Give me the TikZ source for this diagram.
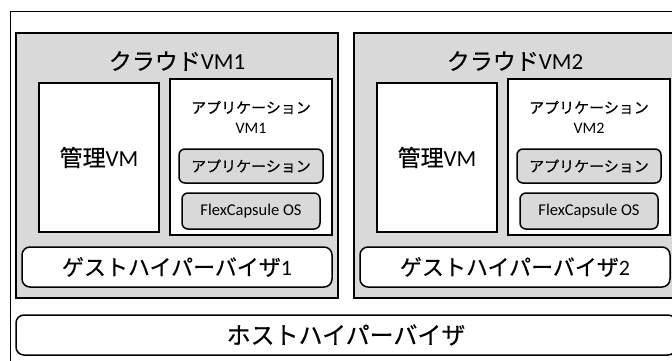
\documentclass[tikz,border=0pt]{standalone}
\usepackage{fontspec}
\setmainfont{Carlito}
\newfontfamily\jp[FakeBold=0.4]{Noto Sans CJK JP}
\definecolor{boxgray}{HTML}{D9D9D9}
\begin{document}
\begin{tikzpicture}[x=1pt,y=-1pt,
  frame/.style={draw=black, line width=1.5pt, inner sep=0pt, rectangle},
  graybox/.style={frame, fill=boxgray},
  whitebox/.style={frame, fill=white},
  roundwhite/.style={whitebox, rounded corners=8pt},
  roundgray/.style={graybox, rounded corners=6pt},
  bigtext/.style={font=\fontsize{23}{27}\selectfont},
  midtext/.style={font=\fontsize{15}{20}\selectfont, align=center},
  smalltext/.style={font=\fontsize{16.5}{19}\selectfont}]
\useasboundingbox (0,0) rectangle (672,360);
\clip (0,0) rectangle (672,360);
\node[whitebox, line width=1.3pt, minimum width=672, minimum height=360, anchor=north west] (outer) at (10,11) {};
% cloud VM 1
\node[graybox, minimum width=322, minimum height=265] (cloud1) at (177,165.5) {};
\node[bigtext] (cloud1t) at (177,61) {{\jp クラウド}VM1};
\node[whitebox, minimum width=120, minimum height=149, bigtext] (mgmt1) at (99,157.5) {{\jp 管理}VM};
\node[whitebox, minimum width=162, minimum height=156] (appvm1) at (251,157) {};
\node[midtext] (appvm1t) at (251,117) {{\jp アプリケーション}\\{\fontsize{16}{20}\selectfont VM1}};
\node[roundgray, minimum width=144, minimum height=34, midtext] (app1) at (251,166) {\jp アプリケーション};
\node[roundgray, minimum width=138, minimum height=36, smalltext] (flex1) at (251,211) {FlexCapsule OS};
\node[roundwhite, minimum width=310, minimum height=40, font=\fontsize{22}{26}\selectfont] (guest1) at (177,267) {{\jp ゲストハイパーバイザ}1};
% cloud VM 2
\node[graybox, minimum width=322, minimum height=265] (cloud2) at (515,165.5) {};
\node[bigtext] (cloud2t) at (515,61) {{\jp クラウド}VM2};
\node[whitebox, minimum width=120, minimum height=149, bigtext] (mgmt2) at (437,157.5) {{\jp 管理}VM};
\node[whitebox, minimum width=162, minimum height=156] (appvm2) at (589,157) {};
\node[midtext] (appvm2t) at (589,117) {{\jp アプリケーション}\\{\fontsize{16}{20}\selectfont VM2}};
\node[roundgray, minimum width=144, minimum height=34, midtext] (app2) at (589,166) {\jp アプリケーション};
\node[roundgray, minimum width=138, minimum height=36, smalltext] (flex2) at (589,211) {FlexCapsule OS};
\node[roundwhite, minimum width=310, minimum height=40, font=\fontsize{22}{26}\selectfont] (guest2) at (515,267) {{\jp ゲストハイパーバイザ}2};
% host
\node[roundwhite, minimum width=660, minimum height=40, font=\fontsize{24}{28}\selectfont] (host) at (346,335) {\jp ホストハイパーバイザ};
\end{tikzpicture}
\end{document}
